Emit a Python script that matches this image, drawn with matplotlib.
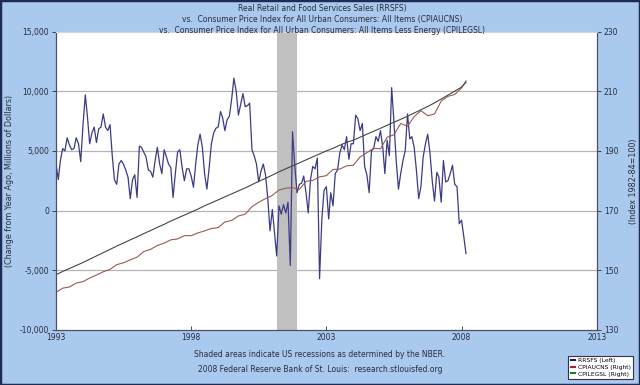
import matplotlib
matplotlib.use('Agg')
import matplotlib.pyplot as plt
from matplotlib.patches import Rectangle
import pandas as pd

# RRSFS, change from year ago (millions of dollars), monthly from Jan 1993
rrsfs = [
    3900, 2600, 4200, 5200, 5000, 6100, 5500, 5100, 5200, 6100, 5600, 4100,   # 1993
    7200, 9700, 7900, 5600, 6500, 7000, 5700, 6850, 7000, 8100, 7000, 6700,   # 1994
    7200, 4500, 2600, 2200, 3900, 4200, 3900, 3400, 2800, 1000, 2600, 3000,   # 1995
    1100, 5400, 5300, 4900, 4500, 3400, 3300, 2800, 4200, 5300, 3900, 3100,   # 1996
    5100, 4500, 3900, 3600, 1100, 3100, 4900, 5100, 3600, 2500, 3500, 3500,   # 1997
    2900, 1950, 3800, 5500, 6400, 5300, 3100, 1800, 3600, 5600, 6500, 6900,   # 1998
    7000, 8300, 7800, 6700, 7600, 7900, 9300, 11100, 10000, 8000, 8900, 9800, # 1999
    8700, 8800, 9000, 5100, 4600, 3900, 2400, 3300, 3900, 3000, 1000, -1700,  # 2000
    100, -1900, -3800, 400, -300, 500, -200, 700, -4600, 6600, 3700, 1500,    # 2001
    2200, 2300, 2900, 1500, -200, 2600, 3700, 3500, 4400, -5700, -700, 1700,  # 2002
    2000, -700, 1500, 400, 3100, 3400, 4800, 5500, 5100, 6200, 4300, 5600,    # 2003
    5600, 8000, 7700, 6700, 7300, 3700, 3000, 1500, 5000, 5200, 6200, 5800,   # 2004
    6700, 5300, 3100, 5900, 4600, 10300, 7500, 4200, 1800, 3100, 4200, 5000,  # 2005
    8100, 6000, 6200, 5300, 3400, 1000, 2000, 4500, 5600, 6400, 4800, 2500,   # 2006
    800, 3200, 2800, 700, 4200, 2400, 2500, 3100, 3800, 2200, 2000, -1100,    # 2007
    -800, -2200, -3600,                                                       # 2008
]

# CPI series (index 1982-84=100), quarterly (Jan, Apr, Jul, Oct) plus Mar 2008
cpiaucns = [
    142.6, 144.0, 144.4, 145.7,
    146.2, 147.4, 148.4, 149.5,
    150.3, 151.9, 152.5, 153.5,
    154.4, 156.3, 157.0, 158.3,
    159.1, 160.2, 160.5, 161.6,
    161.6, 162.5, 163.2, 164.0,
    164.3, 166.2, 166.7, 168.2,
    168.8, 171.3, 172.8, 174.0,
    175.1, 176.9, 177.5, 177.7,
    177.1, 179.8, 180.1, 181.3,
    181.7, 183.8, 183.9, 185.0,
    185.2, 188.0, 189.4, 190.9,
    190.7, 194.6, 195.4, 199.2,
    198.3, 201.5, 203.5, 201.8,
    202.4, 206.7, 208.3, 208.9,
    211.1, 213.5,
]
cpilegsl = [
    148.5, 149.6, 150.6, 151.6,
    152.6, 153.7, 154.8, 155.9,
    157.0, 158.1, 159.1, 160.2,
    161.2, 162.3, 163.3, 164.4,
    165.4, 166.5, 167.5, 168.5,
    169.5, 170.5, 171.6, 172.6,
    173.6, 174.6, 175.6, 176.6,
    177.6, 178.7, 179.8, 180.8,
    181.9, 183.0, 184.0, 185.0,
    186.0, 187.0, 188.0, 189.0,
    190.0, 190.9, 191.9, 192.9,
    193.6, 194.6, 195.6, 196.6,
    197.6, 198.6, 199.6, 200.6,
    201.6, 202.7, 203.8, 204.9,
    206.1, 207.4, 208.7, 210.0,
    211.4, 213.0,
]

rr_dates = pd.date_range('1993-01-01', periods=len(rrsfs), freq='MS')
cpi_dates = pd.date_range('1993-01-01', '2008-01-01', freq='QS').append(pd.DatetimeIndex(['2008-03-01']))

recession = ('2001-03-01', '2001-11-30')
year_ticks = [1993, 1998, 2003, 2008, 2013]

bg = '#a9c9ef'
txt = '#2b2b3b'

fig = plt.figure(figsize=(6.4, 3.85), dpi=100, facecolor=bg)
ax = fig.add_axes([0.0875, 0.143, 0.845, 0.775])
ax.set_facecolor('white')
ax2 = ax.twinx()

ax.axvspan(pd.Timestamp(recession[0]), pd.Timestamp(recession[1]), color='#c0c0c0', lw=0, zorder=1)
for v in [10000, 5000, 0, -5000]:
    ax.axhline(v, color='#b4b4b4', lw=0.9, zorder=0)

ax.plot(rr_dates, rrsfs, color='#3b3b88', lw=0.9, zorder=3)
ax2.plot(cpi_dates, cpiaucns, color='#9a5a52', lw=0.8)
ax2.plot(cpi_dates, cpilegsl, color='#3e4a40', lw=0.8)

ax.set_xlim(pd.Timestamp('1993-01-01'), pd.Timestamp('2013-01-01'))
ax.set_ylim(-10000, 15000)
ax2.set_ylim(130, 230)

ax.set_yticks([15000, 10000, 5000, 0, -5000, -10000])
ax.set_yticklabels(['15,000', '10,000', '5,000', '0', '-5,000', '-10,000'])
ax2.set_yticks([230, 210, 190, 170, 150, 130])
ax.set_xticks([pd.Timestamp(f'{y}-01-01') for y in year_ticks])
ax.set_xticklabels([str(y) for y in year_ticks])

ax.tick_params(axis='y', labelsize=5.5, colors=txt, length=3, width=0.6, pad=2)
ax2.tick_params(axis='y', labelsize=5.5, colors=txt, length=3, width=0.6, pad=2)
ax.tick_params(axis='x', labelsize=5.5, colors=txt, direction='in', length=3, width=0.6, pad=2)

for a in (ax, ax2):
    for s in a.spines.values():
        s.set_color('#4a5060')
        s.set_linewidth(0.8)
    a.spines['top'].set_color('#d0d8e0')

ax.set_ylabel('(Change from Year Ago, Millions of Dollars)', fontsize=5.8, color=txt, labelpad=4)
ax2.set_ylabel('(Index 1982-84=100)', fontsize=5.8, color=txt, labelpad=8)

fig.text(0.503, 0.978, 'Real Retail and Food Services Sales (RRSFS)', ha='center', va='center', fontsize=5.5, color=txt)
fig.text(0.503, 0.950, 'vs.  Consumer Price Index for All Urban Consumers: All Items (CPIAUCNS)', ha='center', va='center', fontsize=5.5, color=txt)
fig.text(0.503, 0.922, 'vs.  Consumer Price Index for All Urban Consumers: All Items Less Energy (CPILEGSL)', ha='center', va='center', fontsize=5.5, color=txt)

fig.text(0.5, 0.078, 'Shaded areas indicate US recessions as determined by the NBER.', ha='center', va='center', fontsize=5.5, color=txt)
fig.text(0.5, 0.040, '2008 Federal Reserve Bank of St. Louis:  research.stlouisfed.org', ha='center', va='center', fontsize=5.5, color=txt)

handles = [plt.Line2D([], [], color='#1a1a66', lw=1.5),
           plt.Line2D([], [], color='#aa2233', lw=1.5),
           plt.Line2D([], [], color='#227722', lw=1.5)]
leg = fig.legend(handles, ['RRSFS (Left)', 'CPIAUCNS (Right)', 'CPILEGSL (Right)'],
                 loc='lower right', bbox_to_anchor=(0.994, 0.008), fontsize=4.3,
                 handlelength=0.8, handletextpad=0.4, labelspacing=0.25,
                 borderpad=0.4, fancybox=False, framealpha=1, edgecolor='#333344')
leg.get_frame().set_linewidth(0.8)

fig.patches.append(Rectangle((0, 0), 1, 1, transform=fig.transFigure, fill=False,
                             edgecolor='#1c2c55', lw=2.5))

fig.savefig('out.png', dpi=100, facecolor=bg)
